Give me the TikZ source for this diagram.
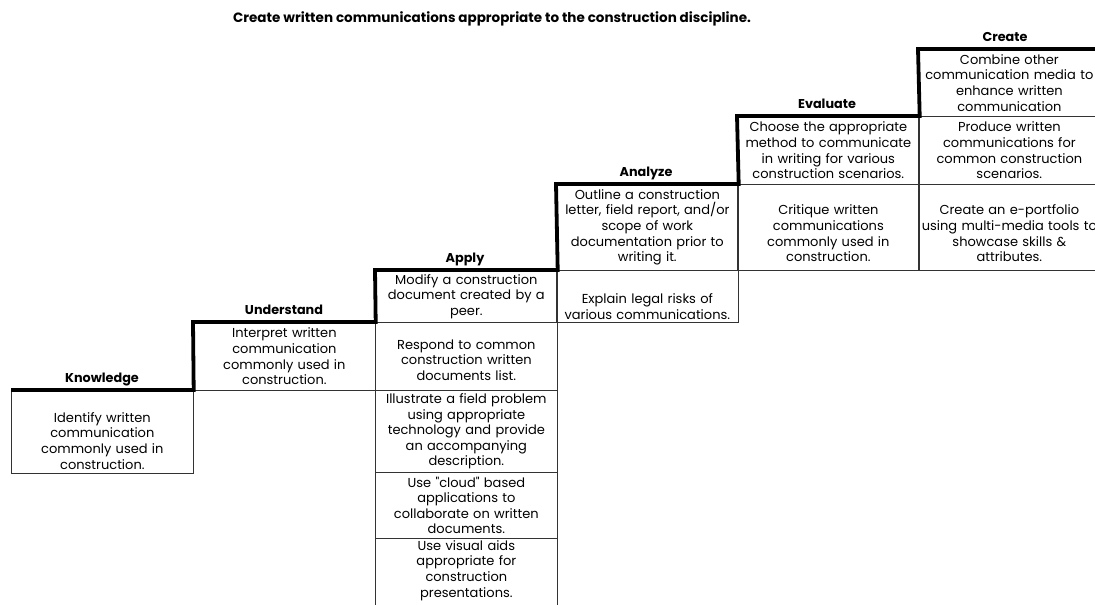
\documentclass[tikz,border=0pt]{standalone}
\usepackage{fontspec}
\setmainfont{Poppins}
\usepackage{tikz}

\tikzset{
  cell/.style={draw=black!80, line width=0.7pt, anchor=north west,
    minimum width=182pt, minimum height=#1pt, inner sep=0pt,
    text width=180pt, align=center,
    font=\fontsize{13}{15.6}\selectfont},
  drop/.style={execute at begin node={\rule{0pt}{#1pt}}},
  level/.style={anchor=base, font=\fontsize{12.8}{14}\selectfont\bfseries},
  stairs/.style={line width=3.8pt, line join=miter}
}

\begin{document}
\begin{tikzpicture}[x=1pt,y=-1pt]
  \useasboundingbox (0,0) rectangle (1095,605);
  \clip (0,0) rectangle (1095,605);
  \node[level, font=\fontsize{13.5}{15}\selectfont\bfseries] (title) at (492,22) {Create written communications appropriate to the construction discipline.};

  % Knowledge
  \node[cell=83, drop=28] (kn1) at (11,390) {Identify written\\communication\\commonly used in\\construction.};
  % Understand
  \node[cell=68] (un1) at (193,322) {Interpret written\\communication\\commonly used in\\construction.};
  % Apply
  \node[cell=52] (ap1) at (375,270) {Modify a construction\\document created by a\\peer.};
  \node[cell=68, drop=17] (ap2) at (375,322) {Respond to common\\construction written\\documents list.};
  \node[cell=82] (ap3) at (375,390) {Illustrate a field problem\\using appropriate\\technology and provide\\an accompanying\\description.};
  \node[cell=66] (ap4) at (375,472) {Use \textquotedbl cloud\textquotedbl{} based\\applications to\\collaborate on written\\documents.};
  \node[cell=64, draw=none] (ap5) at (375,538) {Use visual aids\\appropriate for\\construction\\presentations.};
  % Analyze
  \node[cell=86] (an1) at (556,184) {Outline a construction\\letter, field report, and/or\\scope of work\\documentation prior to\\writing it.};
  \node[cell=52, drop=30] (an2) at (556,270) {Explain legal risks of\\various communications.};
  % Evaluate
  \node[cell=68] (ev1) at (737,116) {Choose the appropriate\\method to communicate\\in writing for various\\construction scenarios.};
  \node[cell=86, drop=22] (ev2) at (737,184) {Critique written\\communications\\commonly used in\\construction.};
  % Create
  \node[cell=67] (cr1) at (918,49) {Combine other\\communication media to\\enhance written\\communication};
  \node[cell=68] (cr2) at (918,116) {Produce written\\communications for\\common construction\\scenarios.};
  \node[cell=86, drop=22] (cr3) at (918,184) {Create an e-portfolio\\using multi-media tools to\\showcase skills \&\\attributes.};

  % level names above the steps
  \node[level] (knl) at (102,382) {Knowledge};
  \node[level] (unl) at (284,314) {Understand};
  \node[level] (apl) at (465,262) {Apply};
  \node[level] (anl) at (646,176) {Analyze};
  \node[level] (evl) at (827,108) {Evaluate};
  \node[level] (crl) at (1005,41) {Create};

  \draw[draw=black!80, line width=0.7pt] (ap5.north west) -- (ap5.south west |- 0,610);
  \draw[draw=black!80, line width=0.7pt] (ap5.north east) -- (ap5.south east |- 0,610);
  \draw[stairs] (kn1.north west) -- (kn1.north east) -- (un1.north west)
    -- (un1.north east) -- (ap1.north west) -- (ap1.north east)
    -- (an1.north west) -- (an1.north east) -- (ev1.north west)
    -- (ev1.north east) -- (cr1.north west) -- (cr1.north east);
\end{tikzpicture}
\end{document}
